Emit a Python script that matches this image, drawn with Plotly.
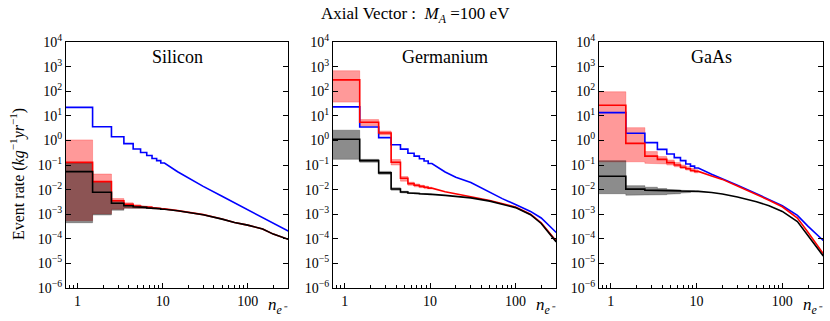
import numpy as np
import plotly.graph_objects as go

# electron-number bins (centres); bins up to N_STEP are drawn as steps
N = [1, 2, 3, 4, 5, 6, 7, 8, 9, 10, 15, 20, 30, 50, 70, 100, 150, 200, 300]
N_STEP = 10
BAND_N = [1, 2, 3, 4, 5, 6, 7, 8, 9, 10]

# Silicon
si_blue = [22, 3.6, 1.4, 0.74, 0.45, 0.32, 0.245, 0.185, 0.15, 0.12, 0.053, 0.03, 0.0135,
           0.0054, 0.0029, 0.00153, 7.3e-4, 4.3e-4, 2.05e-4]
si_red = [0.128, 0.021, 3.5e-3, 2.5e-3, 2.15e-3, 2.0e-3, 1.9e-3, 1.8e-3, 1.72e-3, 1.65e-3,
          1.4e-3, 1.2e-3, 9.6e-4, 6.4e-4, 4.6e-4, 3.6e-4, 2.5e-4, 1.55e-4, 9.5e-5]
si_black = [0.054, 7.8e-3, 2.8e-3, 2.2e-3, 2.0e-3, 1.9e-3, 1.8e-3, 1.75e-3, 1.68e-3, 1.6e-3,
            1.38e-3, 1.18e-3, 9.5e-4, 6.3e-4, 4.6e-4, 3.6e-4, 2.5e-4, 1.55e-4, 9.5e-5]
si_red_lo = [5.5e-4, 1.05e-3, 1.6e-3, 1.8e-3, 1.85e-3, 1.8e-3, 1.75e-3, 1.7e-3, 1.65e-3, 1.6e-3]
si_red_hi = [1.05, 0.043, 4.3e-3, 2.9e-3, 2.4e-3, 2.2e-3, 2.05e-3, 1.9e-3, 1.8e-3, 1.72e-3]
si_black_lo = [4.5e-4, 9.3e-4, 1.45e-3, 1.75e-3, 1.8e-3, 1.75e-3, 1.7e-3, 1.65e-3, 1.6e-3, 1.55e-3]
si_black_hi = [0.12, 0.02, 3.3e-3, 2.5e-3, 2.2e-3, 2.05e-3, 1.9e-3, 1.82e-3, 1.74e-3, 1.66e-3]

# Germanium
ge_blue = [23, 3.5, 1.3, 0.67, 0.44, 0.3, 0.23, 0.18, 0.145, 0.115, 0.052, 0.032, 0.0195,
           7.8e-3, 4.3e-3, 2.5e-3, 1.3e-3, 7e-4, 1.8e-4]
ge_red = [290, 5.5, 2.0, 0.13, 0.029, 0.0175, 0.015, 0.0135, 0.0125, 0.0115, 8.2e-3, 6.6e-3,
          5.1e-3, 3.6e-3, 2.7e-3, 1.95e-3, 1.0e-3, 4.5e-4, 8e-5]
ge_black = [1.12, 0.15, 0.048, 0.0106, 8e-3, 7.3e-3, 7e-3, 6.8e-3, 6.6e-3, 6.4e-3, 5.8e-3,
            5.3e-3, 4.6e-3, 3.4e-3, 2.6e-3, 1.85e-3, 9.5e-4, 4.2e-4, 7.5e-5]
ge_red_lo = [36, 3.9, 1.65, 0.1, 0.022, 0.015, 0.013, 0.012, 0.011, 0.0105]
ge_red_hi = [680, 7.0, 2.4, 0.167, 0.034, 0.02, 0.017, 0.015, 0.0138, 0.0125]
ge_black_lo = [0.17, 0.13, 0.042, 9.5e-3, 7.4e-3, 6.9e-3, 6.7e-3, 6.5e-3, 6.4e-3, 6.2e-3]
ge_black_hi = [2.6, 0.17, 0.055, 0.0118, 8.6e-3, 7.7e-3, 7.3e-3, 7.0e-3, 6.8e-3, 6.6e-3]

# GaAs
ga_blue = [13.5, 1.95, 0.81, 0.43, 0.28, 0.2, 0.15, 0.11, 0.09, 0.075, 0.042, 0.028, 0.015,
           6.8e-3, 4.0e-3, 2.2e-3, 9e-4, 3.2e-4, 8.5e-5]
ga_red = [27, 0.76, 0.23, 0.17, 0.125, 0.1, 0.081, 0.07, 0.06, 0.055, 0.036, 0.026, 0.014,
          6.4e-3, 3.7e-3, 2.0e-3, 7e-4, 1.8e-4, 2.5e-5]
ga_black = [0.035, 0.0105, 9.5e-3, 9.2e-3, 9e-3, 8.9e-3, 8.8e-3, 8.7e-3, 8.6e-3, 8.5e-3,
            7.6e-3, 6.6e-3, 5.0e-3, 3.2e-3, 2.2e-3, 1.3e-3, 5e-4, 1.3e-4, 2e-5]
ga_red_lo = [0.135, 0.135, 0.117, 0.11, 0.1, 0.085, 0.072, 0.062, 0.053, 0.048]
ga_red_hi = [95, 3.3, 0.35, 0.22, 0.16, 0.125, 0.1, 0.085, 0.073, 0.064]
ga_black_lo = [6.8e-3, 5.9e-3, 6.0e-3, 6.2e-3, 6.5e-3, 6.8e-3, 7.2e-3, 7.6e-3, 8.0e-3, 8.3e-3]
ga_black_hi = [0.15, 0.0145, 0.0125, 0.011, 0.0102, 9.7e-3, 9.4e-3, 9.1e-3, 8.9e-3, 8.7e-3]

panels = [
    ("Silicon", si_blue, si_red, si_black, si_red_lo, si_red_hi, si_black_lo, si_black_hi),
    ("Germanium", ge_blue, ge_red, ge_black, ge_red_lo, ge_red_hi, ge_black_lo, ge_black_hi),
    ("GaAs", ga_blue, ga_red, ga_black, ga_red_lo, ga_red_hi, ga_black_lo, ga_black_hi),
]


def stairs(n, v):
    xs, ys = [], []
    for c, y in zip(n, v):
        if c <= N_STEP:
            xs += [c - 0.5, c + 0.5]
            ys += [y, y]
        else:
            xs.append(c)
            ys.append(y)
    return xs, ys


W, H = 830, 321
xdom = [(66, 288), (333, 556), (599, 823)]
ytop, ybot = 42, 288
FONT = "Liberation Serif, serif"
minor_x = [0.8, 0.9, 2, 3, 4, 5, 6, 7, 8, 9, 20, 30, 40, 50, 60, 70, 80, 90, 200, 300]

fig = go.Figure()
for i, (name, blue, red, black, rlo, rhi, klo, khi) in enumerate(panels):
    sfx = "" if i == 0 else str(i + 1)
    xa, ya = "x" + sfx, "y" + sfx
    # bands
    for lo, hi, fill, edge in [(rlo, rhi, "rgba(255,0,0,0.4)", "rgba(255,0,0,0.25)"),
                               (klo, khi, "rgba(0,0,0,0.45)", "rgba(0,0,0,0.25)")]:
        bx, by = stairs(BAND_N, lo)
        fig.add_trace(go.Scatter(x=bx, y=by, mode="lines", line=dict(color=edge, width=1),
                                 xaxis=xa, yaxis=ya, hoverinfo="skip"))
        bx, by = stairs(BAND_N, hi)
        fig.add_trace(go.Scatter(x=bx, y=by, mode="lines", line=dict(color=edge, width=1),
                                 fill="tonexty", fillcolor=fill, xaxis=xa, yaxis=ya,
                                 hoverinfo="skip"))
    for vals, col in [(blue, "#0000ff"), (red, "#ff0000"), (black, "#000000")]:
        sx, sy = stairs(N, vals)
        fig.add_trace(go.Scatter(x=sx, y=sy, mode="lines", line=dict(color=col, width=1.6),
                                 xaxis=xa, yaxis=ya))

    x0, x1 = xdom[i]
    fig.layout["xaxis" + sfx] = dict(
        domain=[x0 / W, x1 / W], anchor=ya, type="log", automargin=False,
        range=[np.log10(0.73), np.log10(298)],
        showline=True, linecolor="black", linewidth=1.2, mirror=True,
        ticks="inside", ticklen=5, tickcolor="black",
        tickvals=[1, 10, 100], ticktext=["1", "10", "100"],
        minor=dict(ticks="inside", ticklen=2.5, tickcolor="black", tickvals=minor_x),
        tickfont=dict(family=FONT, size=14, color="black"),
        showgrid=False, zeroline=False)
    exps = list(range(-6, 5))
    fig.layout["yaxis" + sfx] = dict(
        domain=[1 - ybot / H, 1 - ytop / H], anchor=xa, type="log", range=[-6, 4],
        automargin=False,
        showline=True, linecolor="black", linewidth=1.2, mirror="ticks",
        ticks="inside", ticklen=5, tickcolor="black",
        tickvals=[10.0 ** e for e in exps],
        ticktext=["10<sup>%s</sup>" % (str(e).replace("-", "\u2212")) for e in exps],
        tickfont=dict(family=FONT, size=14, color="black"),
        showgrid=False, zeroline=False)

    fig.add_annotation(text=name, xref="paper", yref="paper", x=(x0 + x1) / 2 / W,
                       y=1 - 57 / H, xanchor="center", yanchor="middle", showarrow=False,
                       font=dict(family=FONT, size=18, color="black"))
    fig.add_annotation(text="<i>n<sub>e\u207b</sub></i>", xref="paper", yref="paper",
                       x=(x1 + 2) / W, y=1 - 306 / H, xanchor="right", yanchor="middle",
                       showarrow=False, font=dict(family=FONT, size=17, color="black"))

fig.add_annotation(text="Axial Vector :  <i>M<sub>A</sub></i> =100 eV", xref="paper", yref="paper",
                   x=0.5, y=1 - 15 / H, xanchor="center", yanchor="middle", showarrow=False,
                   font=dict(family=FONT, size=17, color="black"))
fig.add_annotation(text="Event rate (<i>kg</i><sup>\u22121</sup><i>yr</i><sup>\u22121</sup>)",
                   xref="paper", yref="paper", x=18 / W, y=1 - 174 / H, textangle=-90,
                   xanchor="center", yanchor="middle",
                   showarrow=False, font=dict(family=FONT, size=16, color="black"))

fig.update_layout(width=W, height=H, margin=dict(l=0, r=0, t=0, b=0), showlegend=False,
                  template="none", plot_bgcolor="white", paper_bgcolor="white")
fig.write_html("out.html", config={"displayModeBar": False},
               post_script="document.body.style.margin='0';")
